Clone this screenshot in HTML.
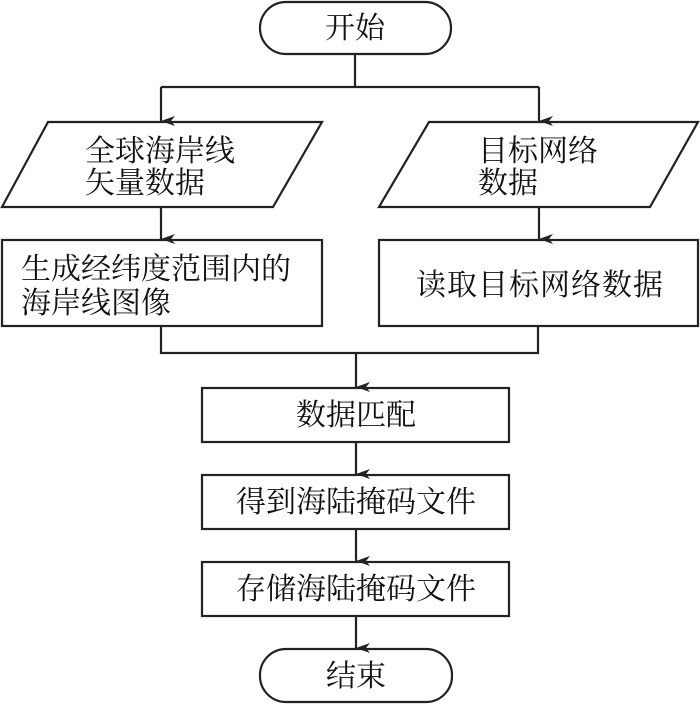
<!DOCTYPE html>
<html><head><meta charset="utf-8"><style>
html,body{margin:0;padding:0;background:#fff;}
svg text{font-family:"Liberation Serif","Noto Serif CJK SC",serif;font-size:30px;fill:#111;}
</style></head><body>
<svg width="700" height="704" viewBox="0 0 700 704" xmlns="http://www.w3.org/2000/svg">
<defs><marker id="a" markerWidth="10" markerHeight="14" refX="5" refY="14" orient="auto" markerUnits="userSpaceOnUse" viewBox="0 0 10 14"><path d="M0,0 L5,14 L10,0 L5,4 Z" fill="#222"/></marker></defs>
<g fill="none" stroke="#222" stroke-width="2.2">
<rect x="260" y="2" width="191" height="52" rx="26"/>
<polyline points="355,54 355,87"/>
<polyline points="161,87 539,87"/>
<line x1="161" y1="87" x2="161" y2="121" marker-end="url(#a)"/>
<line x1="539" y1="87" x2="539" y2="121" marker-end="url(#a)"/>
<polygon points="48,122 322,122 273,207 2,207"/>
<polygon points="429,122 698,122 650,207 379,207"/>
<line x1="161" y1="207" x2="161" y2="239" marker-end="url(#a)"/>
<line x1="539" y1="207" x2="539" y2="239" marker-end="url(#a)"/>
<rect x="2" y="240" width="320" height="86"/>
<rect x="379" y="240" width="319" height="86"/>
<polyline points="161,326 161,353 538,353 538,326"/>
<line x1="356" y1="353" x2="356" y2="387" marker-end="url(#a)"/>
<rect x="202" y="388" width="307" height="54"/>
<line x1="356" y1="442" x2="356" y2="474" marker-end="url(#a)"/>
<rect x="202" y="475" width="307" height="54"/>
<line x1="356" y1="529" x2="356" y2="561" marker-end="url(#a)"/>
<rect x="202" y="562" width="307" height="54"/>
<line x1="356" y1="616" x2="356" y2="648" marker-end="url(#a)"/>
<rect x="260" y="649" width="192" height="53" rx="26"/>
</g>
<text x="355" y="38" text-anchor="middle">开始</text>
<text x="85" y="161">全球海岸线</text>
<text x="85" y="193">矢量数据</text>
<text x="478" y="161">目标网络</text>
<text x="478" y="193">数据</text>
<text x="21" y="279">生成经纬度范围内的</text>
<text x="21" y="313">海岸线图像</text>
<text x="540" y="295" text-anchor="middle" letter-spacing="1">读取目标网络数据</text>
<text x="356" y="425" text-anchor="middle">数据匹配</text>
<text x="356" y="512" text-anchor="middle">得到海陆掩码文件</text>
<text x="356" y="599" text-anchor="middle">存储海陆掩码文件</text>
<text x="356" y="686" text-anchor="middle">结束</text>
</svg>
</body></html>
